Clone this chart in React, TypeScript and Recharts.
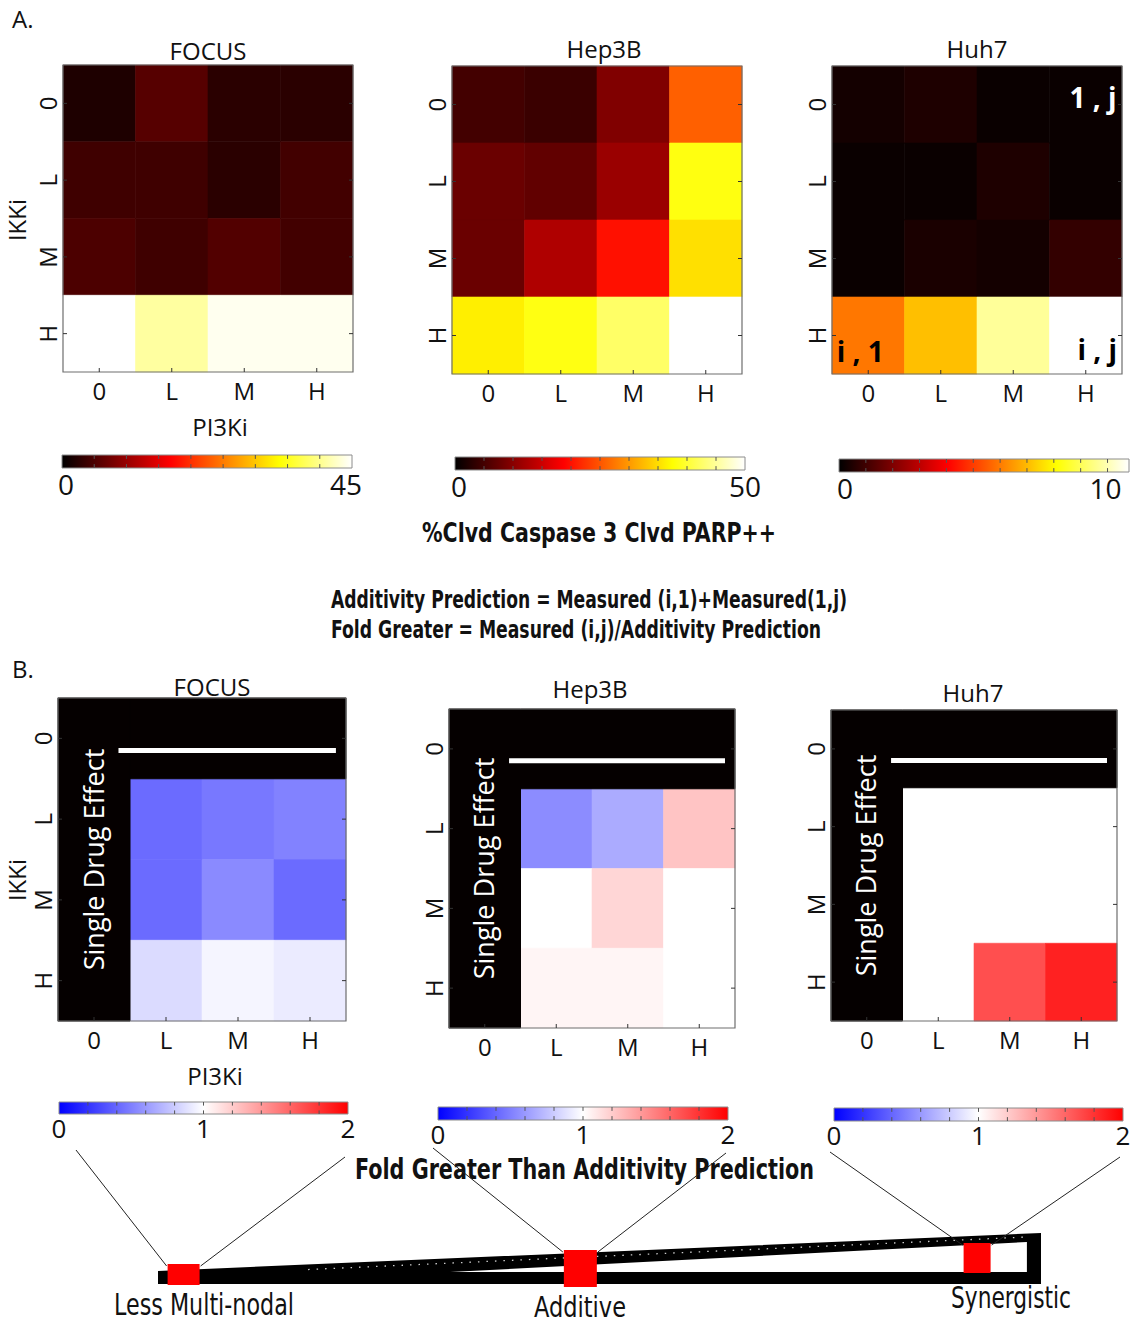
import React from 'react';
import {
  ComposedChart,
  XAxis,
  YAxis,
  Scatter,
  ReferenceArea,
  ReferenceLine,
  ReferenceDot,
} from 'recharts';

// dose levels used on both axes (rows = IKKi, cols = PI3Ki)
const levels = ['0', 'L', 'M', 'H'];
const cellLines = ['FOCUS', 'Hep3B', 'Huh7'];

// A. % Clvd Caspase 3 / Clvd PARP double positive
const focusPct = [
  [2.0, 5.7, 2.8, 2.8],
  [4.2, 4.2, 2.8, 4.4],
  [5.0, 4.2, 5.4, 4.4],
  [45, 40.8, 44.3, 44.3],
];
const hep3bPct = [
  [4.9, 4.3, 9.4, 25.8],
  [7.8, 7.1, 11.3, 38.3],
  [7.8, 12.9, 19.9, 35.2],
  [36.3, 38.4, 42.5, 50],
];
const huh7Pct = [
  [0.32, 0.48, 0.16, 0.16],
  [0.16, 0.16, 0.48, 0.16],
  [0.16, 0.41, 0.32, 0.81],
  [5.94, 7.09, 9.72, 10.8],
];
const pctMax = [45, 50, 10.8];
const pctTicks = [[0, 45], [0, 50], [0, 10]];
const pctMinorStep = [5, 5, 1];

// B. fold greater than additivity prediction (rows/cols L, M, H; 0 row/col = single drug)
const focusFold = [
  [0.42, 0.47, 0.51],
  [0.42, 0.54, 0.42],
  [0.86, 0.96, 0.92],
];
const hep3bFold = [
  [0.55, 0.67, 1.23],
  [1.0, 1.16, 1.0],
  [1.04, 1.04, 1.0],
];
const huh7Fold = [
  [1.0, 1.0, 1.0],
  [1.0, 1.0, 1.0],
  [1.0, 1.69, 1.87],
];
const foldTicks = [0, 1, 2];

// bottom schematic
const outcomeLabels = ['Less Multi-nodal', 'Additive', 'Synergistic'];
const outcomeFold = [0, 1, 2];

const SANS = "'Open Sans', 'Noto Sans', sans-serif";
const NARROW = "'Liberation Sans Narrow', 'DejaVu Sans Condensed', 'Liberation Sans', sans-serif";
const BLACK = '#050000';

const clamp = (v: number) => Math.max(0, Math.min(1, v));
const rgb = (r: number, g: number, b: number) =>
  `rgb(${Math.round(r * 255)},${Math.round(g * 255)},${Math.round(b * 255)})`;
// matlab "hot"
const hot = (t: number) =>
  rgb(clamp(t / 0.375), clamp((t - 0.375) / 0.375), clamp((t - 0.75) / 0.25));
// blue - white - red over 0..2
const bwr = (v: number) => (v <= 1 ? rgb(v, v, 1) : rgb(1, 2 - v, 2 - v));

const A_LAYOUT = [
  { plot: { x: 63, y: 65, w: 290, h: 307 }, title: { x: 208, y: 60 }, bar: { x: 62, y: 455, w: 290, h: 13 }, dx: [4, -6] },
  { plot: { x: 452, y: 66, w: 290, h: 308 }, title: { x: 604, y: 58 }, bar: { x: 455, y: 457, w: 290, h: 13 }, dx: [4, 0] },
  { plot: { x: 832, y: 66, w: 290, h: 308 }, title: { x: 977, y: 58 }, bar: { x: 839, y: 459, w: 290, h: 13 }, dx: [6, -2] },
];
const B_LAYOUT = [
  { plot: { x: 58, y: 698, w: 288, h: 323 }, title: { x: 212, y: 696 }, bar: { x: 59, y: 1102, w: 289, h: 12 }, from: [[76, 1150], [345, 1157]] },
  { plot: { x: 449, y: 709, w: 286, h: 319 }, title: { x: 590, y: 698 }, bar: { x: 438, y: 1107, w: 290, h: 13 }, from: [[433, 1148], [726, 1153]] },
  { plot: { x: 831, y: 710, w: 286, h: 311 }, title: { x: 973, y: 702 }, bar: { x: 834, y: 1108, w: 289, h: 13 }, from: [[830, 1152], [1120, 1157]] },
];

const CENTERS = [0.5, 1.5, 2.5, 3.5];
const HM = { top: 5, right: 5, bottom: 5, left: 5 };
const Y_W = 45;
const X_H = 40;

const Empty = () => <g />;

const XTick = (p: any) => (
  <text x={p.x} y={p.y + 27.5} textAnchor="middle" fontSize={24} fill="#111" fontFamily={SANS}>
    {levels[Math.floor(p.payload.value)]}
  </text>
);

const YTick = (p: any) => {
  const x = p.x - 15;
  const y = p.y;
  return (
    <text x={x} y={y} dy={8.5} transform={`rotate(-90 ${x} ${y})`} textAnchor="middle" fontSize={24} fill="#111" fontFamily={SANS}>
      {levels[3 - Math.floor(p.payload.value)]}
    </text>
  );
};

type Cell = { col: number; row: number; x: number; y: number; fill: string };

function Heatmap({ plot, cells, children }: { plot: any; cells: Cell[]; children?: React.ReactNode }) {
  const kx = 4 / (plot.w / 4);
  const ky = 4 / (plot.h / 4);
  return (
    <div style={{ position: 'absolute', left: plot.x - HM.left - Y_W, top: plot.y - HM.top }}>
      <ComposedChart
        width={plot.w + HM.left + Y_W + HM.right}
        height={plot.h + HM.top + X_H + HM.bottom}
        margin={HM}
        data={cells}
      >
        <XAxis type="number" dataKey="x" domain={[0, 4]} ticks={CENTERS} interval={0} height={X_H}
          axisLine={false} tickLine={false} tickSize={0} tickMargin={0} allowDataOverflow tick={(p: any) => <XTick {...p} />} />
        <YAxis type="number" dataKey="y" domain={[0, 4]} ticks={CENTERS} interval={0} width={Y_W}
          axisLine={false} tickLine={false} tickSize={0} tickMargin={0} allowDataOverflow tick={(p: any) => <YTick {...p} />} />
        {cells.map((c) => (
          <ReferenceArea key={`c${c.row}-${c.col}`} x1={c.col} x2={c.col + 1} y1={3 - c.row} y2={4 - c.row}
            fill={c.fill} fillOpacity={1} stroke={c.fill} strokeWidth={0.6} ifOverflow="visible" />
        ))}
        {children}
        {CENTERS.map((t) => (
          <ReferenceLine key={`tb${t}`} segment={[{ x: t, y: 0 }, { x: t, y: ky }]} stroke="#333" strokeWidth={1} />
        ))}
        {CENTERS.map((t) => (
          <ReferenceLine key={`tl${t}`} segment={[{ x: 0, y: t }, { x: kx, y: t }]} stroke="#333" strokeWidth={1} />
        ))}
        {CENTERS.map((t) => (
          <ReferenceLine key={`tr${t}`} segment={[{ x: 4, y: t }, { x: 4 - kx, y: t }]} stroke="#333" strokeWidth={1} />
        ))}
        <ReferenceArea x1={0} x2={4} y1={0} y2={4} fill="none" stroke="#6e6e6e" strokeWidth={1.2} ifOverflow="visible" />
        <Scatter shape={Empty} isAnimationActive={false} />
      </ComposedChart>
    </div>
  );
}

const CB = { top: 2, right: 26, bottom: 0, left: 26 };

function Colorbar({ bar, max, ticks, minorStep, grad, fontSize, base, dx }: any) {
  const minor: number[] = [];
  for (let t = minorStep; t < max - 1e-6; t += minorStep) minor.push(+t.toFixed(4));
  const k = 0.3;
  return (
    <div style={{ position: 'absolute', left: bar.x - CB.left, top: bar.y - CB.top }}>
      <ComposedChart width={bar.w + CB.left + CB.right} height={bar.h + CB.top + 40} margin={CB}
        data={[{ x: 0, y: 0 }, { x: max, y: 1 }]}>
        <XAxis type="number" dataKey="x" domain={[0, max]} ticks={ticks} interval={0} height={40}
          axisLine={false} tickLine={false} tickSize={0} tickMargin={0} allowDataOverflow
          tick={(p: any) => (
            <text x={p.x + (dx ? dx[p.index] || 0 : 0)} y={p.y + base} textAnchor="middle" fontSize={fontSize} fill="#111" fontFamily={SANS}>
              {p.payload.value}
            </text>
          )} />
        <YAxis type="number" dataKey="y" domain={[0, 1]} hide />
        <ReferenceArea x1={0} x2={max} y1={0} y2={1} fill={`url(#${grad})`} fillOpacity={1}
          stroke="#8c8c8c" strokeWidth={1} ifOverflow="visible" />
        {minor.map((t) => (
          <ReferenceLine key={`u${t}`} segment={[{ x: t, y: 0 }, { x: t, y: k }]} stroke="#555" strokeWidth={1} />
        ))}
        {minor.map((t) => (
          <ReferenceLine key={`d${t}`} segment={[{ x: t, y: 1 }, { x: t, y: 1 - k }]} stroke="#555" strokeWidth={1} />
        ))}
        <Scatter shape={Empty} isAnimationActive={false} />
      </ComposedChart>
    </div>
  );
}

// schematic scale: fold value -> page x
const WEDGE_PX0 = 183.6;
const WEDGE_SCALE = 396.75;
const WEDGE_TOP = 1204;
const WEDGE_BASE = 1284;
const foldToPx = (v: number) => WEDGE_PX0 + v * WEDGE_SCALE;
const pxToFold = (px: number) => (px - WEDGE_PX0) / WEDGE_SCALE;
const MARK = [
  { w: 32, lo: -1, hi: 20 },
  { w: 33, lo: -3, hi: 34 },
  { w: 27, lo: 11, hi: 41 },
];

const WedgeShape = (p: any) => {
  const { x, y, width: w, height: h } = p;
  const P = (fx: number, fy: number) => `${(x + fx * w).toFixed(1)},${(y + fy * h).toFixed(1)}`;
  const d =
    `M${P(0, 0.745)} L${P(1, 0)} L${P(1, 1)} L${P(0, 1)} Z ` +
    `M${P(0.331, 0.765)} L${P(0.984, 0.176)} L${P(0.984, 0.765)} Z`;
  return (
    <g>
      <path d={d} fill="#000" fillRule="evenodd" />
      <line x1={x + 0.17 * w} y1={y + 0.745 * 0.83 * h + 5} x2={x + 0.984 * w} y2={y + 4}
        stroke="#fff" strokeWidth={1.3} strokeDasharray="1.5 7" opacity={0.8} />
    </g>
  );
};

function OutcomeScale() {
  return (
    <div style={{ position: 'absolute', left: 0, top: WEDGE_TOP }}>
      <ComposedChart width={1138} height={100} margin={{ top: 0, right: 0, bottom: 0, left: 0 }}
        data={outcomeFold.map((f) => ({ x: f, y: 0 }))}>
        <XAxis type="number" dataKey="x" domain={[pxToFold(0), pxToFold(1138)]} hide allowDataOverflow />
        <YAxis type="number" dataKey="y" domain={[-20, 80]} hide allowDataOverflow />
        <ReferenceArea x1={pxToFold(158)} x2={pxToFold(1041)} y1={0} y2={51} shape={WedgeShape} ifOverflow="visible" />
        {outcomeFold.map((f, i) => (
          <ReferenceArea key={outcomeLabels[i]} x1={f - MARK[i].w / 2 / WEDGE_SCALE} x2={f + MARK[i].w / 2 / WEDGE_SCALE}
            y1={MARK[i].lo} y2={MARK[i].hi} fill="#ff0000" fillOpacity={1} stroke="none" ifOverflow="visible" />
        ))}
        <Scatter shape={Empty} isAnimationActive={false} />
      </ComposedChart>
    </div>
  );
}

const pctCells = (m: number[][], max: number): Cell[] =>
  m.flatMap((row, r) => row.map((v, c) => ({ col: c, row: r, x: c + 0.5, y: 3.5 - r, fill: hot(v / max) })));
const foldCells = (m: number[][]): Cell[] =>
  m.flatMap((row, r) => row.map((v, c) => ({ col: c + 1, row: r + 1, x: c + 1.5, y: 2.5 - r, fill: bwr(v) })));

const pctData = [focusPct, hep3bPct, huh7Pct];
const foldData = [focusFold, hep3bFold, huh7Fold];

const annot = { fontSize: 28, fontWeight: 700, fontFamily: SANS };

export default function App() {
  const hotStops = Array.from({ length: 33 }, (_, i) => i / 32);
  return (
    <div style={{ position: 'absolute', left: 0, top: 0, width: 1138, height: 1324, background: '#fff', fontFamily: SANS, overflow: 'hidden' }}>
      <svg width={0} height={0} style={{ position: 'absolute' }}>
        <defs>
          <linearGradient id="hotGrad" x1="0" x2="1" y1="0" y2="0">
            {hotStops.map((t) => (
              <stop key={t} offset={t} stopColor={hot(t)} />
            ))}
          </linearGradient>
          <linearGradient id="bwrGrad" x1="0" x2="1" y1="0" y2="0">
            <stop offset={0} stopColor="#0000ff" />
            <stop offset={0.5} stopColor="#ffffff" />
            <stop offset={1} stopColor="#ff0000" />
          </linearGradient>
        </defs>
      </svg>

      {A_LAYOUT.map((L, i) => (
        <Heatmap key={`A${i}`} plot={L.plot} cells={pctCells(pctData[i], pctMax[i])}>
          {i === 2 && [
            <ReferenceDot key="a1" x={3.6} y={3.58} r={1} fill="none" stroke="none"
              label={{ value: '1 , j', position: 'center', fill: '#fff', ...annot }} />,
            <ReferenceDot key="a2" x={0.39} y={0.29} r={1} fill="none" stroke="none"
              label={{ value: 'i , 1', position: 'center', fill: '#000', ...annot }} />,
            <ReferenceDot key="a3" x={3.66} y={0.31} r={1} fill="none" stroke="none"
              label={{ value: 'i , j', position: 'center', fill: '#000', ...annot }} />,
          ]}
        </Heatmap>
      ))}
      {A_LAYOUT.map((L, i) => (
        <Colorbar key={`Ac${i}`} bar={L.bar} max={pctMax[i]} ticks={pctTicks[i]} minorStep={pctMinorStep[i]}
          grad="hotGrad" fontSize={28} base={27} dx={L.dx} />
      ))}

      {B_LAYOUT.map((L, i) => (
        <Heatmap key={`B${i}`} plot={L.plot} cells={foldCells(foldData[i])}>
          <ReferenceArea x1={1} x2={4} y1={3} y2={4} fill={BLACK} fillOpacity={1} stroke={BLACK} ifOverflow="visible" />
          <ReferenceArea x1={0} x2={1} y1={0} y2={4} fill={BLACK} fillOpacity={1} stroke={BLACK} ifOverflow="visible"
            label={{ value: 'Single Drug Effect', position: 'center', angle: -90, fill: '#fff', fontSize: 27, fontFamily: SANS }} />
          <ReferenceLine segment={[{ x: 0.84, y: 3.35 }, { x: 3.86, y: 3.35 }]} stroke="#fff" strokeWidth={5} />
        </Heatmap>
      ))}
      {B_LAYOUT.map((L, i) => (
        <Colorbar key={`Bc${i}`} bar={L.bar} max={2} ticks={foldTicks} minorStep={0.2} grad="bwrGrad" fontSize={26} base={24} />
      ))}

      <OutcomeScale />

      <svg width={1138} height={1324} style={{ position: 'absolute', left: 0, top: 0, pointerEvents: 'none' }}>
        <text x={12} y={28} fontSize={24} fill="#111">A.</text>
        <text x={12} y={678} fontSize={24} fill="#111">B.</text>
        {A_LAYOUT.map((L, i) => (
          <text key={`At${i}`} x={L.title.x} y={L.title.y} textAnchor="middle" fontSize={24} fill="#111">{cellLines[i]}</text>
        ))}
        {B_LAYOUT.map((L, i) => (
          <text key={`Bt${i}`} x={L.title.x} y={L.title.y} textAnchor="middle" fontSize={24} fill="#111">{cellLines[i]}</text>
        ))}
        <text x={17} y={220} dy={8.5} transform="rotate(-90 17 220)" textAnchor="middle" fontSize={24} fill="#111">IKKi</text>
        <text x={17} y={880} dy={8.5} transform="rotate(-90 17 880)" textAnchor="middle" fontSize={24} fill="#111">IKKi</text>
        <text x={220} y={436} textAnchor="middle" fontSize={24} fill="#111">PI3Ki</text>
        <text x={215} y={1085} textAnchor="middle" fontSize={24} fill="#111">PI3Ki</text>

        <g fontFamily={NARROW} fontWeight={700} fill="#111">
          <text x={422} y={542} fontSize={26} textLength={354} lengthAdjust="spacingAndGlyphs">%Clvd Caspase 3 Clvd PARP++</text>
          <text x={331} y={608} fontSize={25} textLength={516} lengthAdjust="spacingAndGlyphs">Additivity Prediction = Measured (i,1)+Measured(1,j)</text>
          <text x={331} y={638} fontSize={25} textLength={490} lengthAdjust="spacingAndGlyphs">Fold Greater = Measured (i,j)/Additivity Prediction</text>
          <text x={355} y={1179} fontSize={28} textLength={459} lengthAdjust="spacingAndGlyphs">Fold Greater Than Additivity Prediction</text>
        </g>
        <g fontFamily={NARROW} fill="#111">
          <text x={114} y={1315} fontSize={30} textLength={180} lengthAdjust="spacingAndGlyphs">{outcomeLabels[0]}</text>
          <text x={534} y={1317} fontSize={29} textLength={92} lengthAdjust="spacingAndGlyphs">{outcomeLabels[1]}</text>
          <text x={951} y={1308} fontSize={30} textLength={120} lengthAdjust="spacingAndGlyphs">{outcomeLabels[2]}</text>
        </g>

        {B_LAYOUT.map((L, i) => {
          const cx = foldToPx(outcomeFold[i]);
          const top = WEDGE_BASE - MARK[i].hi;
          return (
            <g key={`ln${i}`} stroke="#222" strokeWidth={1}>
              <line x1={L.from[0][0]} y1={L.from[0][1]} x2={cx - MARK[i].w / 2 - 1} y2={top + 2} />
              <line x1={L.from[1][0]} y1={L.from[1][1]} x2={cx + MARK[i].w / 2 + 1} y2={top + 2} />
            </g>
          );
        })}
      </svg>
    </div>
  );
}
